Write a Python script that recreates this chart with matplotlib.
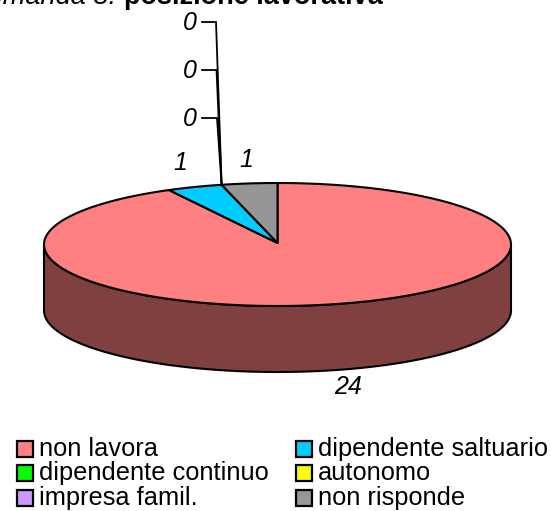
import numpy as np
import matplotlib
matplotlib.use("Agg")
import matplotlib.pyplot as plt

plt.rcParams['font.family'] = ['Liberation Sans', 'DejaVu Sans']

labels = ["non lavora", "dipendente continuo", "impresa famil.",
          "dipendente saltuario", "autonomo", "non risponde"]
# order round the pie, clockwise from 12 o'clock
slice_names = ["non lavora", "dipendente saltuario", "dipendente continuo", "autonomo",
               "impresa famil.", "non risponde"]
slice_values = [24, 1, 0, 0, 0, 1]
colors = {"non lavora": "#FF8080", "dipendente continuo": "#00FF00",
          "impresa famil.": "#CC99FF", "dipendente saltuario": "#00CCFF",
          "autonomo": "#FFFF00", "non risponde": "#969696"}
wall = "#804040"

W, H = 551, 511
cx, cy = 277.5, 244.5
apex_y = 243
rx, ry = 233.5, 61.5
depth = 66

fig = plt.figure(figsize=(W / 100, H / 100), dpi=100)
ax = fig.add_axes([0, 0, 1, 1])
ax.set_xlim(0, W)
ax.set_ylim(H, 0)
ax.axis("off")

def rim(a0, a1):  # angles clockwise from top, degrees
    t = np.radians(np.linspace(a0, a1, 200))
    return cx + rx * np.sin(t), cy - ry * np.cos(t)

# side wall
xs, ys = rim(90, 270)
ax.fill(np.r_[xs, xs[::-1]], np.r_[ys, ys[::-1] + depth], color=wall, ec="black", lw=1.5, zorder=1)

# top slices
total = sum(slice_values)
start = 0
ends = {}
for name, v in zip(slice_names, slice_values):
    stop = start + 360 * v / total
    ends[name] = (start, stop)
    if v > 0:
        xs, ys = rim(start, stop)
        ax.fill(np.r_[cx, xs], np.r_[apex_y, ys], fc=colors[name], ec="black", lw=1.5, zorder=2, joinstyle="round")
    start = stop

# zero slices get leader lines from the rim
a = ends["dipendente continuo"][0]
lx, ly = rim(a, a)
for top_x, y in zip([216, 216.5, 217], [22, 70, 118]):
    ax.plot([lx[0], top_x, 202], [ly[0], y, y], color="black", lw=1.3, zorder=3, solid_joinstyle="miter")
    ax.text(190, y + 1, "0", fontsize=18, style="italic", ha="center", va="center")

ax.text(180, 163, "1", fontsize=18, style="italic", ha="center", va="center")
ax.text(246, 160, "1", fontsize=18, style="italic", ha="center", va="center")
ax.text(348, 387, "24", fontsize=18, style="italic", ha="center", va="center")

# title cut by the top edge
ax.text(123.5, 4, "Domanda 8: ", fontsize=19.5, style="italic", ha="right", va="baseline")
ax.text(123.5, 4, "posizione lavorativa", fontsize=19.5, weight="bold", ha="left", va="baseline")

# legend
rows = [449, 473, 498]
for i, name in enumerate(labels):
    x0 = 16.5 if i < 3 else 295.5
    y = rows[i % 3]
    ax.add_patch(plt.Rectangle((x0, y - 8), 16, 16, fc=colors[name], ec="black", lw=1.6))
    ax.text(x0 + 22.5, y + 7, name, fontsize=18.3, ha="left", va="baseline")

fig.savefig("out.png", dpi=100)
